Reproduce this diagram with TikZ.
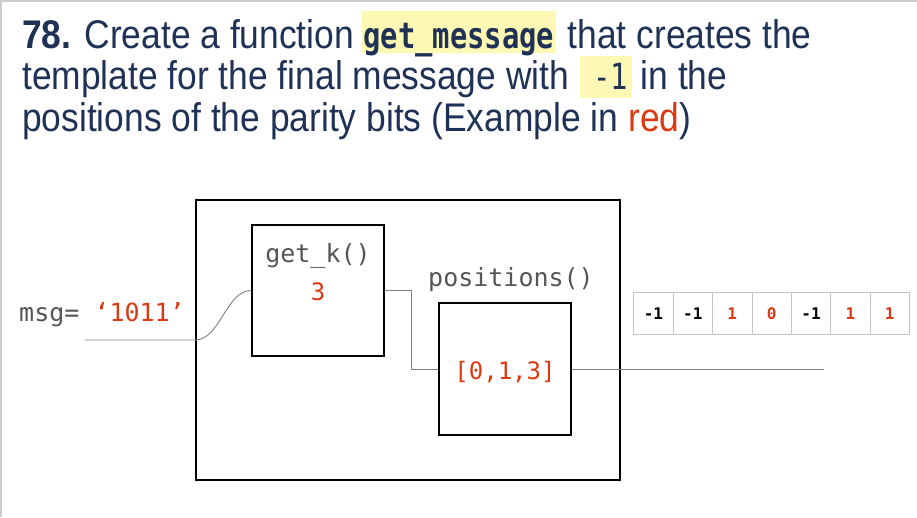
\documentclass[tikz,border=0pt]{standalone}
\usepackage{fontspec}
\newfontfamily\headfont[FakeStretch=0.885]{Liberation Sans}
\newfontfamily\headcode[FakeStretch=0.8]{DejaVu Sans Mono}
\newfontfamily\diagcode{DejaVu Sans Mono}
\definecolor{navy}{HTML}{1F3256}
\definecolor{accent}{HTML}{DA3A12}
\definecolor{marker}{HTML}{FDF8B4}
\definecolor{wire}{HTML}{7F7F7F}
\definecolor{labelgray}{HTML}{555555}
\definecolor{cellline}{HTML}{C4C4C4}
\definecolor{pageedge}{HTML}{CCCCCC}
\begin{document}
\begin{tikzpicture}[x=1pt,y=-1pt,
  headline/.style={font=\headfont\fontsize{40}{46}\selectfont, text=navy, inner sep=0, anchor=base west},
  hilite/.style={fill=marker, inner ysep=0, inner xsep=2pt, anchor=base west,
    text height=37pt, text depth=5pt, text=navy,
    font=\headcode\fontsize{36}{40}\selectfont\bfseries},
  box/.style={draw=black, line width=1.8pt, inner sep=0},
  fname/.style={font=\diagcode\fontsize{25}{28}\selectfont, text=labelgray, inner sep=0},
  fval/.style={font=\diagcode\fontsize{24}{28}\selectfont, text=accent, inner sep=0},
  wire/.style={draw=wire, line width=0.9pt},
  cell/.style={draw=cellline, line width=0.8pt, minimum width=39.4pt, minimum height=41.3pt,
    inner sep=0, font=\diagcode\bfseries\fontsize{16}{19}\selectfont}]
\useasboundingbox (0,0) rectangle (917,517);
\draw[pageedge, line width=1.5pt] (0,0.75) -- (917,0.75) (0.75,0) -- (0.75,517);

% heading
\node[headline] (l1a) at (22,48) {\textbf{78.} Create a function};
\node[hilite] (l1b) at ([xshift=7pt]l1a.base east) {get\_message};
\node[headline] (l1c) at ([xshift=11pt]l1b.base east) {that creates the};
\node[headline] (l2a) at (22,89) {template for the final message with};
\node[hilite, inner xsep=0, text height=33pt, text depth=9pt,
  font=\headcode\fontsize{36}{40}\selectfont] (l2b) at ([xshift=10pt]l2a.base east) {\hspace*{14pt}-1\hspace*{4pt}};
\node[headline] (l2c) at ([xshift=8pt]l2b.base east) {in the};
\node[headline] (l3) at (22,131) {positions of the parity bits (Example in \textcolor{accent}{red})};

% function boxes
\node[box, minimum width=424pt, minimum height=280pt] (outer) at (408,340) {};
\node[box, minimum width=132pt, minimum height=131pt] (getk) at (318,290.5) {};
\node[box, minimum width=132pt, minimum height=132pt] (pos) at (505,369) {};
\node[fname] (getkname) at (318,256) {get\_k()};
\node[fval] (kval) at (318,292) {3};
\node[fname] (posname) at (511,280) {positions()};
\node[fval] (plist) at (505,372) {[0,1,3]};
\node[fname, anchor=base west] (msg) at (19,321) {msg= \textcolor{accent}{‘1011’}};

% wires
\coordinate (src) at (85,340);
\coordinate (sink) at (824,369);
\draw[wire] (src) -- (outer.west |- src) .. controls +(25,0) and +(-25,0) .. (getk.west);
\draw[wire] (getk.east) -- ++(27,0) |- (pos.west);
\draw[wire] (pos.east) -- (sink);

% resulting template
\foreach \v/\c [count=\i] in {-1/black,-1/black,1/accent,0/accent,-1/black,1/accent,1/accent}
  \node[cell, text=\c] (cell\i) at ({653.4+39.4*(\i-1)},313.3) {\v};
\end{tikzpicture}
\end{document}
